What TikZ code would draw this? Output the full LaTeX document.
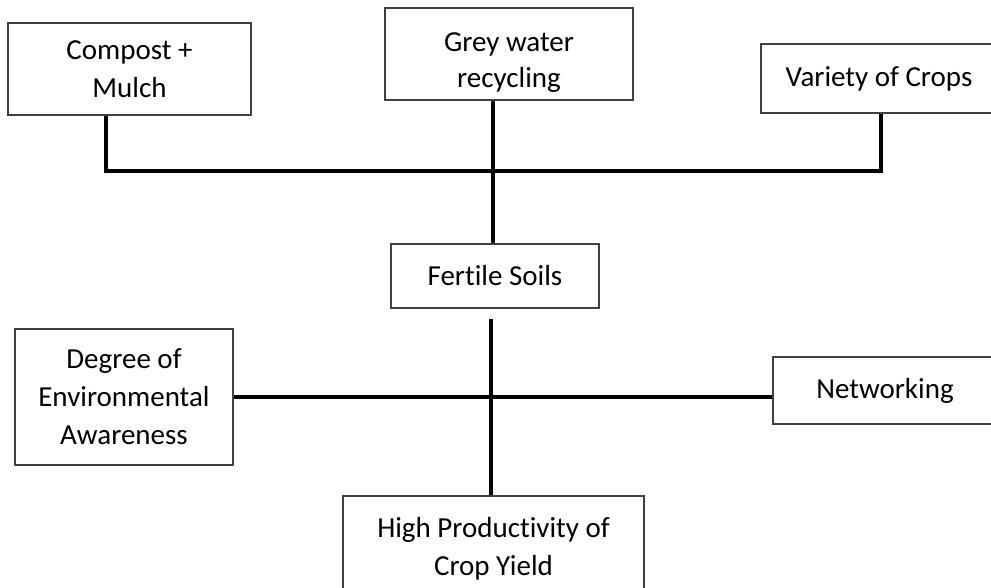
\documentclass[tikz,border=0pt]{standalone}
\usepackage{fontspec}
\setmainfont[Ligatures=NoCommon]{Carlito}
\begin{document}
\begin{tikzpicture}[x=1pt,y=1pt,
  box/.style={draw=black!75,line width=1.2pt,rectangle,inner sep=0pt,align=center,
    font=\fontsize{29}{38}\selectfont},
  plain/.style={inner sep=0pt,align=center,font=\fontsize{29}{36}\selectfont},
  link/.style={line width=3.6pt,line join=miter}]
\useasboundingbox (0,0) rectangle (991,-587);
\fill[white] (0,0) rectangle (991,-587);
\node[box,minimum width=243,minimum height=92] (compost) at (129.5,-69) {Compost +\\Mulch};
\node[box,minimum width=248,minimum height=92] (grey) at (509,-54) {};
\node[plain] (greyt) at (509,-63) {Grey water\\recycling};
\node[box,minimum width=236,minimum height=69] (variety) at (879,-78.5) {Variety of Crops};
\node[box,minimum width=208,minimum height=64] (fertile) at (495,-276) {Fertile Soils};
\node[box,minimum width=218,minimum height=136] (degree) at (124,-397) {Degree of\\Environmental\\Awareness};
\node[box,minimum width=224,minimum height=67] (network) at (885,-390.5) {Networking};
\node[box,minimum width=301,minimum height=106] (high) at (493.5,-549) {High Productivity of\\Crop Yield};
\coordinate (jL) at (106,-171);
\coordinate (jR) at (881,-171);
\coordinate (jC) at (493,-171);
\coordinate (lt) at (491,-319);
\draw[link] (compost.south -| jL) -- (jL) -- (jR) -- (variety.south -| jR);
\draw[link] (grey.south -| jC) -- (fertile.north -| jC);
\draw[link] (lt) -- (high.north -| lt);
\draw[link] (degree.east) -- (degree.east -| network.west);
\end{tikzpicture}
\end{document}
